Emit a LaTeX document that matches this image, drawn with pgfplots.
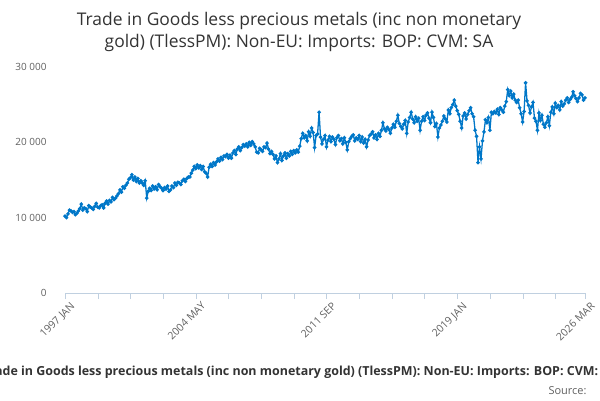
\documentclass[border=0pt]{standalone}
\usepackage{pgfplots}
\pgfplotsset{compat=1.18}
\usepackage{pgfplotstable}
\usepackage{fontspec}
\setmainfont{Open Sans}
\definecolor{ln}{HTML}{0077C8}
\definecolor{ax}{HTML}{C0D0E0}
\definecolor{gr}{HTML}{E6E6E6}
\definecolor{tx}{HTML}{333333}
\definecolor{tk}{HTML}{606060}
\pgfplotstableread{
y
10200
10000
10500
11000
10900
10700
10800
10400
10600
10900
11200
11800
11000
11300
11200
10800
11600
11400
11300
11100
11500
11900
11400
11300
11600
11700
11300
11900
12200
11800
12300
12100
12700
12400
12600
12900
13200
13700
13400
14100
13900
14300
14600
15100
15300
15700
15000
15400
14800
15200
14600
14900
14600
14300
14900
12600
13500
13900
13600
14200
13800
14100
13700
14400
14100
13900
13600
14000
13800
14200
13500
13700
14200
14000
14600
14300
14700
14600
14400
14900
15100
14800
15200
15400
15400
15900
16300
16800
16500
17000
16600
16900
16400
16800
16100
15900
15400
16700
17100
16800
17300
17000
17400
17800
17500
18000
17700
18200
18100
18400
17900
18300
17900
18600
18900
18400
19100
19400
18900
19300
19700
19500
19800
19400
20000
19600
20100
19800
19400
18700
18600
19200
19000
18800
19400
19300
19900
19100
18500
18800
18400
17800
18200
17300
17800
18500
17600
18200
18600
17900
18500
18200
18800
18400
18900
18600
19000
18700
19500
20500
21200
20600
20900
20200
21400
20800
21900
21300
19300
20900
21100
24000
20700
19800
20400
20900
19400
20300
20800
20100
20700
20400
19700
20600
20900
20200
20500
19800
20600
20000
19000
20100
20500
20800
21000
20200
20600
20400
20900
20100
20700
19900
20400
19400
20300
20900
21100
21400
20600
21000
20400
21200
20800
21600
22600
21800
21500
22000
21700
21200
21900
22400
22000
22800
23600
22500
22100
21800
22400
22900
21200
22700
23300
24000
23100
22600
23400
22800
23200
21600
22800
23400
22900
23600
23900
23200
22600
24000
23300
22100
22500
20700
21900
22300
22800
23500
23100
22700
24300
23800
24600
25000
25600
24800
24200
23700
22800
21900
23500
23900
23100
23700
24200
24600
23800
23400
21600
20800
17300
19400
17800
20200
21400
23000
22600
23300
21600
24000
23800
24100
23900
24400
23700
24600
24300
24000
24800
25400
27000
26200
26800
25900
26400
25600
25300
25600
24600
23800
22700
24100
27900
25500
24900
23900
24700
25300
23200
22800
21600
23900
22900
23600
22400
22000
22600
23400
22200
24000
24700
23800
25200
24600
24900
24300
25400
24800
25100
25600
25900
25300
25700
26000
26700
26200
25800
25400
25900
26500
26300
25600
25900
}\data
\begin{document}
\begin{tikzpicture}[x=1bp,y=1bp]
\clip (0,0) rectangle (600,400);
\path[use as bounding box] (0,0) rectangle (600,400);
\node[text=tx,font=\fontsize{17.5}{23}\selectfont,align=center] at (299,368)
  {Trade in Goods less precious metals (inc non monetary\\gold) (TlessPM): Non-EU: Imports: BOP: CVM: SA};
\begin{axis}[at={(65bp,107bp)},anchor=south west,scale only axis,
  width=520bp,height=226bp,
  xmin=0,xmax=350,ymin=0,ymax=30000,
  axis y line=none, axis x line*=bottom,
  x axis line style={ax,-},
  ytick={0,10000,20000,30000},
  ymajorgrids, grid style={gr},
  xtick={0,88,176,264,350},
  xticklabels={1997 JAN,2004 MAY,2011 SEP,2019 JAN,2026 MAR},
  minor xtick={22,44,66,110,132,154,198,220,242,286,308,330},
  x tick style={ax},
  major tick length=6bp, minor tick length=6bp,
  tick align=outside,
  xticklabel style={rotate=45,anchor=north east,text=tk,font=\fontsize{10.5}{12}\selectfont,inner sep=0bp,xshift=2bp,yshift=-5bp},
  /pgf/number format/assume math mode=true,
  clip=false]
\addplot[ln,line width=1.3pt,mark=*,mark size=1.1pt,mark options={ln}] table[x expr=\coordindex,y=y]{\data};
\end{axis}
\foreach \v/\t in {0/0,75.3/10 000,150.6/20 000,226/30 000}
  \node[anchor=east,text=tk,font=\fontsize{10}{12}\selectfont] at (50,107+\v) {\t};
\node[text=tx,font=\bfseries\fontsize{12.5}{15}\selectfont] at (300,28)
  {Trade in Goods less precious metals (inc non monetary gold) (TlessPM): Non-EU: Imports: BOP: CVM: SA};
\node[anchor=east,text=tk,font=\fontsize{11}{13}\selectfont] at (590,9) {Source:};
\end{tikzpicture}
\end{document}
